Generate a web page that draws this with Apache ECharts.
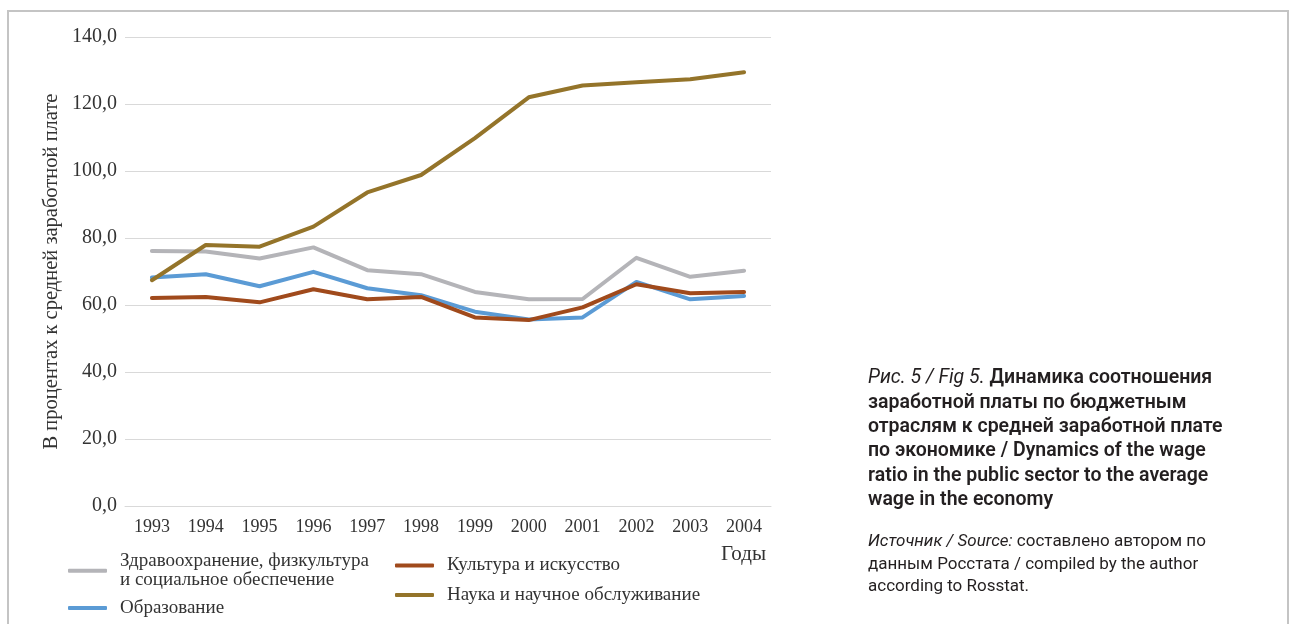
<!DOCTYPE html>
<html>
<head>
<meta charset="utf-8">
<script src="https://cdn.jsdelivr.net/npm/echarts@6/dist/echarts.min.js"></script>
<style>
    html, body { margin: 0; padding: 0; background: #fff; }
    #chart { width: 1290px; height: 624px; }
</style>
</head>
<body>
<div id="chart"></div>
<script>
    // данные
    const years = ['1993', '1994', '1995', '1996', '1997', '1998', '1999', '2000', '2001', '2002', '2003', '2004'];
    const health = [76.1, 76.0, 73.9, 77.2, 70.4, 69.2, 63.9, 61.7, 61.8, 74.1, 68.4, 70.2];
    const culture = [62.1, 62.4, 60.8, 64.7, 61.7, 62.4, 56.3, 55.5, 59.3, 66.2, 63.5, 63.9];
    const education = [68.2, 69.2, 65.6, 69.9, 65.0, 62.9, 58.0, 55.7, 56.3, 66.9, 61.7, 62.7];
    const science = [67.4, 77.9, 77.4, 83.4, 93.6, 98.8, 109.8, 122.0, 125.5, 126.5, 127.4, 129.5];
    const yTicks = [0, 20, 40, 60, 80, 100, 120, 140];

    const names = {
        health: 'Здравоохранение, физкультура\nи социальное обеспечение',
        culture: 'Культура и искусство',
        education: 'Образование',
        science: 'Наука и научное обслуживание'
    };
    const colors = {
        health: '#b4b4b8',
        culture: '#a04a1c',
        education: '#5b9bd5',
        science: '#94742a'
    };

    const serif = '"Liberation Serif", "DejaVu Serif", serif';
    const sans = 'Roboto, "Liberation Sans", sans-serif';
    const TextColor = '#333333';
    const GridColor = '#d9d9d9';

    function makeSeries(key, data) {
        return {
            name: names[key],
            type: 'line',
            data: data,
            showSymbol: false,
            symbol: 'none',
            lineStyle: { color: colors[key], width: 4, cap: 'round', join: 'round' },
            itemStyle: { color: colors[key] },
            animation: false
        };
    }

    function legendBlock(left, top, keys, gap) {
        return {
            orient: 'vertical',
            left: left,
            top: top,
            padding: 0,
            itemGap: gap,
            itemWidth: 39,
            itemHeight: 4,
            icon: 'roundRect',
            selectedMode: false,
            data: keys.map(k => ({ name: names[k], itemStyle: { color: colors[k] } })),
            textStyle: {
                fontFamily: serif,
                fontSize: 19,
                lineHeight: 18.4,
                color: TextColor,
                padding: [0, 0, 0, 8]
            }
        };
    }

    const chart = echarts.init(document.getElementById('chart'), null, { renderer: 'canvas' });

    const option = {
        backgroundColor: '#fff',
        animation: false,
        grid: { left: 125, right: 519, top: 37, bottom: 118 },
        legend: [
            legendBlock(68, 552, ['health', 'education'], 9),
            legendBlock(395, 556, ['culture', 'science'], 10.5)
        ],
        xAxis: {
            type: 'category',
            data: years,
            boundaryGap: true,
            axisLine: { show: true, lineStyle: { color: GridColor, width: 1 } },
            axisTick: { show: false },
            axisLabel: { fontFamily: serif, fontSize: 18, color: TextColor, margin: 12 }
        },
        yAxis: {
            type: 'value',
            min: yTicks[0],
            max: yTicks[yTicks.length - 1],
            interval: 20,
            name: 'В процентах к средней заработной плате',
            nameLocation: 'middle',
            nameGap: 63,
            nameMoveOverlap: false,
            nameRotate: 90,
            nameTextStyle: { fontFamily: serif, fontSize: 20.5, color: TextColor },
            axisLine: { show: false },
            axisTick: { show: false },
            splitLine: { lineStyle: { color: GridColor, width: 1 } },
            axisLabel: {
                fontFamily: serif,
                fontSize: 20,
                color: TextColor,
                margin: 8,
                formatter: v => v.toFixed(1).replace('.', ',')
            }
        },
        series: [
            makeSeries('health', health),
            makeSeries('education', education),
            makeSeries('culture', culture),
            makeSeries('science', science)
        ],
        graphic: [
            {
                type: 'rect',
                shape: { x: 8, y: 11, width: 1280, height: 640 },
                style: { fill: 'none', stroke: '#c4c4c4', lineWidth: 2 },
                silent: true,
                z: -1
            },
            {
                type: 'text',
                right: 1290 - 766,
                top: 544,
                style: { text: 'Годы', fontFamily: serif, fontSize: 21, fill: TextColor }
            },
            {
                type: 'text',
                left: 868,
                top: 368.5,
                style: {
                    text: '{i|Рис. 5 / Fig 5.}{b| Динамика соотношения}\n' +
                        '{b|заработной платы по бюджетным}\n' +
                        '{b|отраслям к средней заработной плате}\n' +
                        '{b|по экономике / Dynamics of the wage}\n' +
                        '{b|ratio in the public sector to the average}\n' +
                        '{b|wage in the economy}',
                    rich: {
                        i: { fontFamily: sans, fontStyle: 'italic', fontSize: 19.5, lineHeight: 24.3, fill: '#231f20' },
                        b: { fontFamily: sans, fontWeight: 600, fontSize: 19.5, lineHeight: 24.3, fill: '#231f20' }
                    }
                }
            },
            {
                type: 'text',
                left: 868,
                top: 533.5,
                style: {
                    text: '{i|Источник / Source:}{r| составлено автором по}\n' +
                        '{r|данным Росстата / compiled by the author}\n' +
                        '{r|according to Rosstat.}',
                    rich: {
                        i: { fontFamily: sans, fontStyle: 'italic', fontSize: 17, lineHeight: 22.5, fill: '#231f20' },
                        r: { fontFamily: sans, fontSize: 17, lineHeight: 22.5, fill: '#231f20' }
                    }
                }
            }
        ]
    };

    chart.setOption(option, true);
</script>
</body>
</html>
